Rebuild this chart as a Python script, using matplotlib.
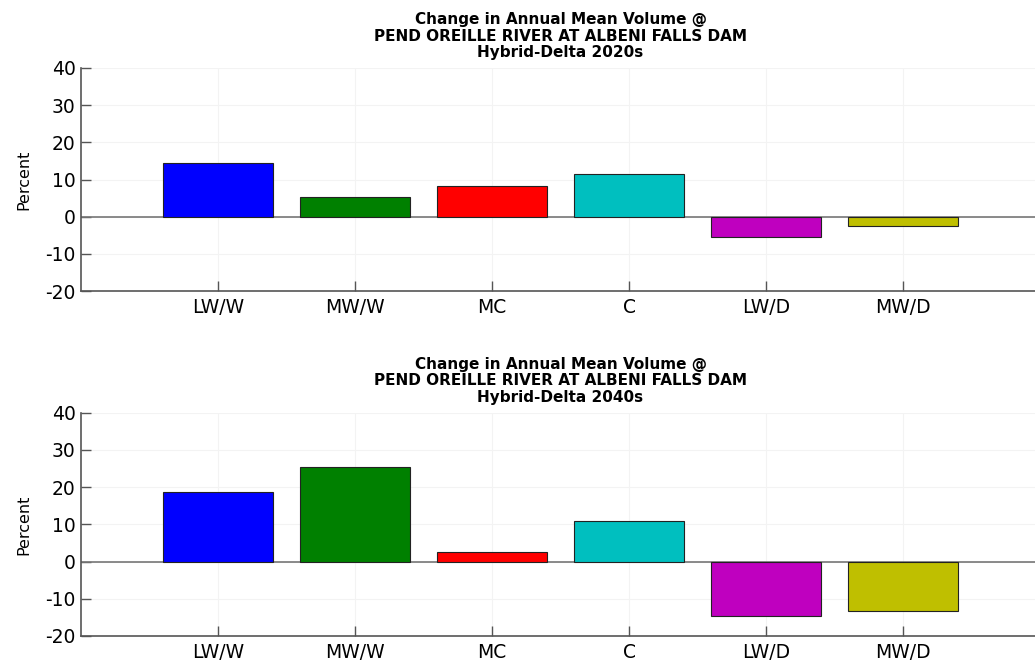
import matplotlib
matplotlib.use("Agg")
import matplotlib.pyplot as plt

# scenario labels and percent change in annual mean volume
scenarios = ["LW/W", "MW/W", "MC", "C", "LW/D", "MW/D"]
change2020s = [14.4, 5.4, 8.3, 11.5, -5.6, -2.6]
change2040s = [18.7, 25.4, 2.6, 10.9, -14.6, -13.4]
colors = ["#0000ff", "#008000", "#ff0000", "#00bfbf", "#bf00bf", "#bfbf00"]
titleBase = "Change in Annual Mean Volume @\nPEND OREILLE RIVER AT ALBENI FALLS DAM\n"
periods = ["Hybrid-Delta 2020s", "Hybrid-Delta 2040s"]

plt.rcParams["font.family"] = ["DejaVu Sans"]
plt.rcParams["axes.unicode_minus"] = False

AXIS = "#555555"


def drawPanel(ax, values, period):
    x = list(range(1, len(values) + 1))
    ax.bar(x, values, width=0.8, color=colors, edgecolor="#222222",
           linewidth=0.8, zorder=3)
    ax.axhline(0, color="#777777", linewidth=1.2, zorder=2)
    ax.set_xlim(0, 7)
    ax.set_ylim(-20, 40)
    ax.set_yticks([-20, -10, 0, 10, 20, 30, 40])
    ax.set_xticks(x)
    ax.set_xticklabels(scenarios)
    ax.tick_params(direction="in", length=7, width=1, color=AXIS,
                   labelsize=13.5, pad=5)
    ax.tick_params(axis="y", pad=4)
    for side in ("top", "right"):
        ax.spines[side].set_visible(False)
    for side in ("left", "bottom"):
        ax.spines[side].set_color(AXIS)
        ax.spines[side].set_linewidth(1.2)
    ax.grid(True, color="#f3f3f3", linewidth=0.8, zorder=0)
    ax.set_ylabel("Percent", fontsize=11.5, labelpad=10)
    ax.set_title(titleBase + period, fontsize=11, fontweight="bold",
                 linespacing=1.1, pad=8)


fig = plt.figure(figsize=(10.35, 6.62), dpi=100)
axTop = fig.add_axes([0.0783, 0.5604, 0.9266, 0.3369])
axBot = fig.add_axes([0.0783, 0.0393, 0.9266, 0.3373])
drawPanel(axTop, change2020s, periods[0])
drawPanel(axBot, change2040s, periods[1])
fig.savefig("out.png", dpi=100, facecolor="white")
